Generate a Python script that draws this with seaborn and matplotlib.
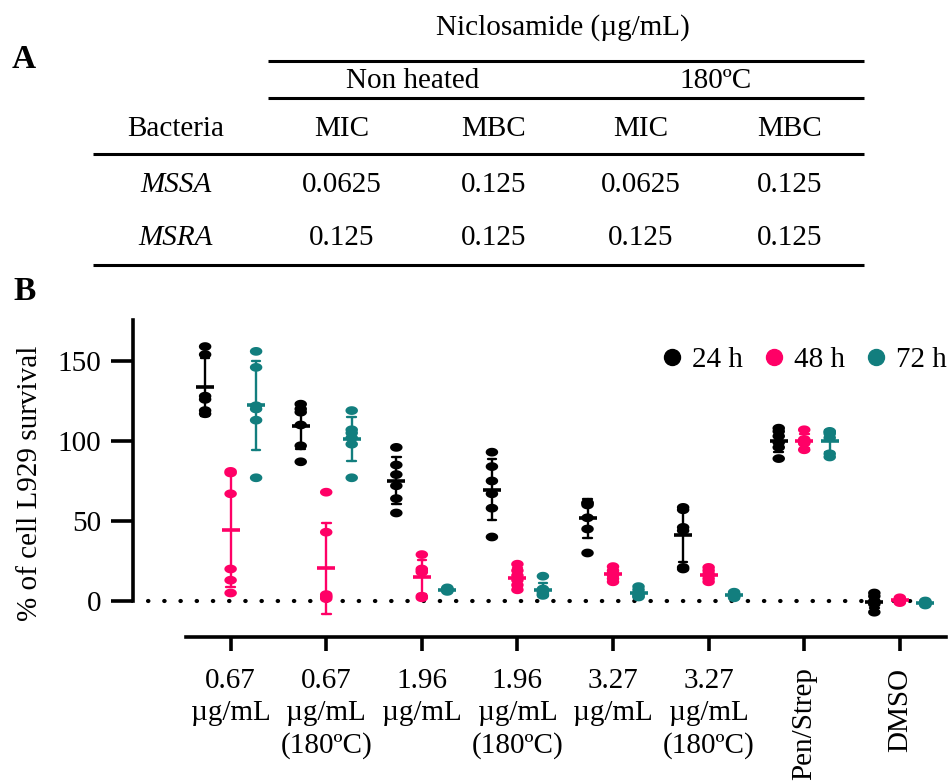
import numpy as np
import pandas as pd
import matplotlib
matplotlib.use("Agg")
import matplotlib.pyplot as plt
from matplotlib.lines import Line2D
from matplotlib.path import Path
import seaborn as sns

W, H = 949, 783

# ---------------- data ----------------
groups = ["0.67\nµg/mL", "0.67\nµg/mL\n(180ºC)", "1.96\nµg/mL", "1.96\nµg/mL\n(180ºC)",
          "3.27\nµg/mL", "3.27\nµg/mL\n(180ºC)", "Pen/Strep", "DMSO"]
times = ["24 h", "48 h", "72 h"]

surv_24h = [
    [159, 154, 128, 126, 119, 117],
    [123, 120, 118, 110, 97, 87],
    [96, 85, 79, 72, 64, 55],
    [93, 84, 75, 67, 58, 40],
    [61.5, 61, 60, 52, 45, 30],
    [58.5, 57, 46, 44, 21, 20],
    [108, 106, 103, 99, 96, 89],
    [5, 3, 0, -1, -2, -7],
]
surv_48h = [
    [81, 80, 67, 20, 13, 5],
    [68, 43, 4, 3, 2.5, 1.5],
    [29, 20, 19, 18, 3, 2],
    [23, 19, 16, 13, 10, 7],
    [21.5, 19, 17, 16, 14, 12],
    [21, 19, 17, 16, 14, 12],
    [107, 101, 100, 99, 98.5, 94.5],
    [2, 1, 0.5, 0, -0.5, -1],
]
surv_72h = [
    [156, 146, 122, 120, 113, 77],
    [119, 107, 105, 102, 98, 77],
    [8.2, 7.6, 7.2, 6.8, 6.5, 6.0],
    [15.5, 7.5, 6, 5, 4, 3.5],
    [9, 7, 5, 4, 3, 2.5],
    [5.5, 4.5, 3.5, 3, 2.5, 2],
    [106, 105.5, 104.5, 102, 92, 90],
    [0, -0.5, -1, -1.5, -2, -2.5],
]
y_ticks = [0, 50, 100, 150]
colors = ["#000000", "#FF0066", "#127E7E"]

table_title = "Niclosamide (µg/mL)"
conditions = ["Non heated", "180ºC"]
measures = ["MIC", "MBC", "MIC", "MBC"]
bacteria = ["MSSA", "MSRA"]
mssa_values = ["0.0625", "0.125", "0.0625", "0.125"]
msra_values = ["0.125", "0.125", "0.125", "0.125"]

# ---------------- style ----------------
sns.set_theme(style="ticks")
plt.rcParams["font.family"] = ["Liberation Serif", "DejaVu Serif"]
plt.rcParams["text.color"] = "black"
plt.rcParams["axes.labelcolor"] = "black"
plt.rcParams["xtick.color"] = "black"
plt.rcParams["ytick.color"] = "black"

rows = []
for g, a, b, c in zip(groups, surv_24h, surv_48h, surv_72h):
    for t, vals in zip(times, (a, b, c)):
        for v in vals:
            rows.append({"group": g, "time": t, "value": v})
df = pd.DataFrame(rows)

fig = plt.figure(figsize=(W / 100, H / 100), dpi=100)


def fx(x):
    return x / W


def fy(y):
    return 1 - y / H


# ---------------- panel A: table ----------------
FS = 21
rule_lw = 2.2


def hline(y, x0, x1):
    fig.add_artist(Line2D([fx(x0), fx(x1)], [fy(y), fy(y)], transform=fig.transFigure,
                          color="black", lw=rule_lw, solid_capstyle="butt"))


hline(61, 268, 864)
hline(98, 268, 864)
hline(154, 93, 864)
hline(265, 93, 864)

fig.text(fx(12), fy(68), "A", fontsize=24, fontweight="bold", ha="left", va="baseline")
fig.text(fx(563), fy(35), table_title, fontsize=FS, ha="center", va="baseline")
for cx, cond in zip([413, 716], conditions):
    fig.text(fx(cx), fy(88), cond, fontsize=FS, ha="center", va="baseline")
col_x = [342, 494, 641, 790]
fig.text(fx(176), fy(136), "Bacteria", fontsize=FS, ha="center", va="baseline")
for cx, m in zip(col_x, measures):
    fig.text(fx(cx), fy(136), m, fontsize=FS, ha="center", va="baseline")
for ry, name, vals in zip([192, 245], bacteria, [mssa_values, msra_values]):
    fig.text(fx(176), fy(ry), name, fontsize=FS, style="italic", ha="center", va="baseline")
    for cx, v in zip(col_x, vals):
        fig.text(fx(cx), fy(ry), v, fontsize=FS, ha="center", va="baseline")

# ---------------- panel B: scatter ----------------
ax_l, ax_r, ax_t, ax_b = 133, 946, 320, 637
ax = fig.add_axes([fx(ax_l), fy(ax_b), (ax_r - ax_l) / W, (ax_b - ax_t) / H])

theta = np.linspace(0, 2 * np.pi, 48)
ellipse = Path(np.column_stack([np.cos(theta), 0.7 * np.sin(theta)]), closed=True)

sns.stripplot(data=df, x="group", y="value", hue="time", order=groups, hue_order=times,
              palette=colors, dodge=True, jitter=False, marker=ellipse, size=9,
              linewidth=0, legend=False, ax=ax, zorder=3)
sns.pointplot(data=df, x="group", y="value", hue="time", order=groups, hue_order=times,
              palette=colors, dodge=0.8 * 2 / 3, errorbar="sd", markers="_",
              linestyles="none", markersize=13, markeredgewidth=2.6, capsize=0.09,
              err_kws={"linewidth": 1.7}, legend=False, ax=ax, zorder=4)

x0 = -1.021
x1 = 7.483
ax.set_xlim(x0, x1)
ax.set_ylim(-22.5, 175.6)
ax.plot([-0.864, 7.4], [0, 0], color="black", lw=3.0, linestyle=(0, (0.1, 3.79)),
        dash_capstyle="round", zorder=1)

sns.despine(ax=ax)
ax.spines["left"].set_bounds(0, 175.6)
ax.spines["bottom"].set_bounds(-0.4665, x1)
for s in ("left", "bottom"):
    ax.spines[s].set_linewidth(2.6)
    ax.spines[s].set_color("black")

ax.set_yticks(y_ticks)
ax.tick_params(axis="y", length=16, width=2.6, pad=7, labelsize=FS)
ax.tick_params(axis="x", length=10, width=2.6, pad=12, labelsize=FS)
ax.set_xlabel("")
ax.set_ylabel("% of cell L929 survival", fontsize=FS)
ax.yaxis.set_label_coords((43 - ax_l) / (ax_r - ax_l), (ax_b - 483) / (ax_b - ax_t))

for lab in ax.get_xticklabels():
    lab.set_linespacing(1.32)
    if "\n" not in lab.get_text():
        lab.set_rotation(90)

handles = [Line2D([], [], linestyle="none", marker="o", markersize=11.5, color=c) for c in colors]
ax.legend(handles, times, loc="center left", bbox_to_anchor=(fx(663), fy(360)),
          bbox_transform=fig.transFigure, ncol=3, frameon=False, fontsize=FS,
          handlelength=0.6, handletextpad=0.4, columnspacing=0.75, borderpad=0,
          borderaxespad=0)

fig.text(fx(13), fy(300), "B", fontsize=24, fontweight="bold", ha="left", va="baseline")

fig.savefig("out.png", dpi=100)
